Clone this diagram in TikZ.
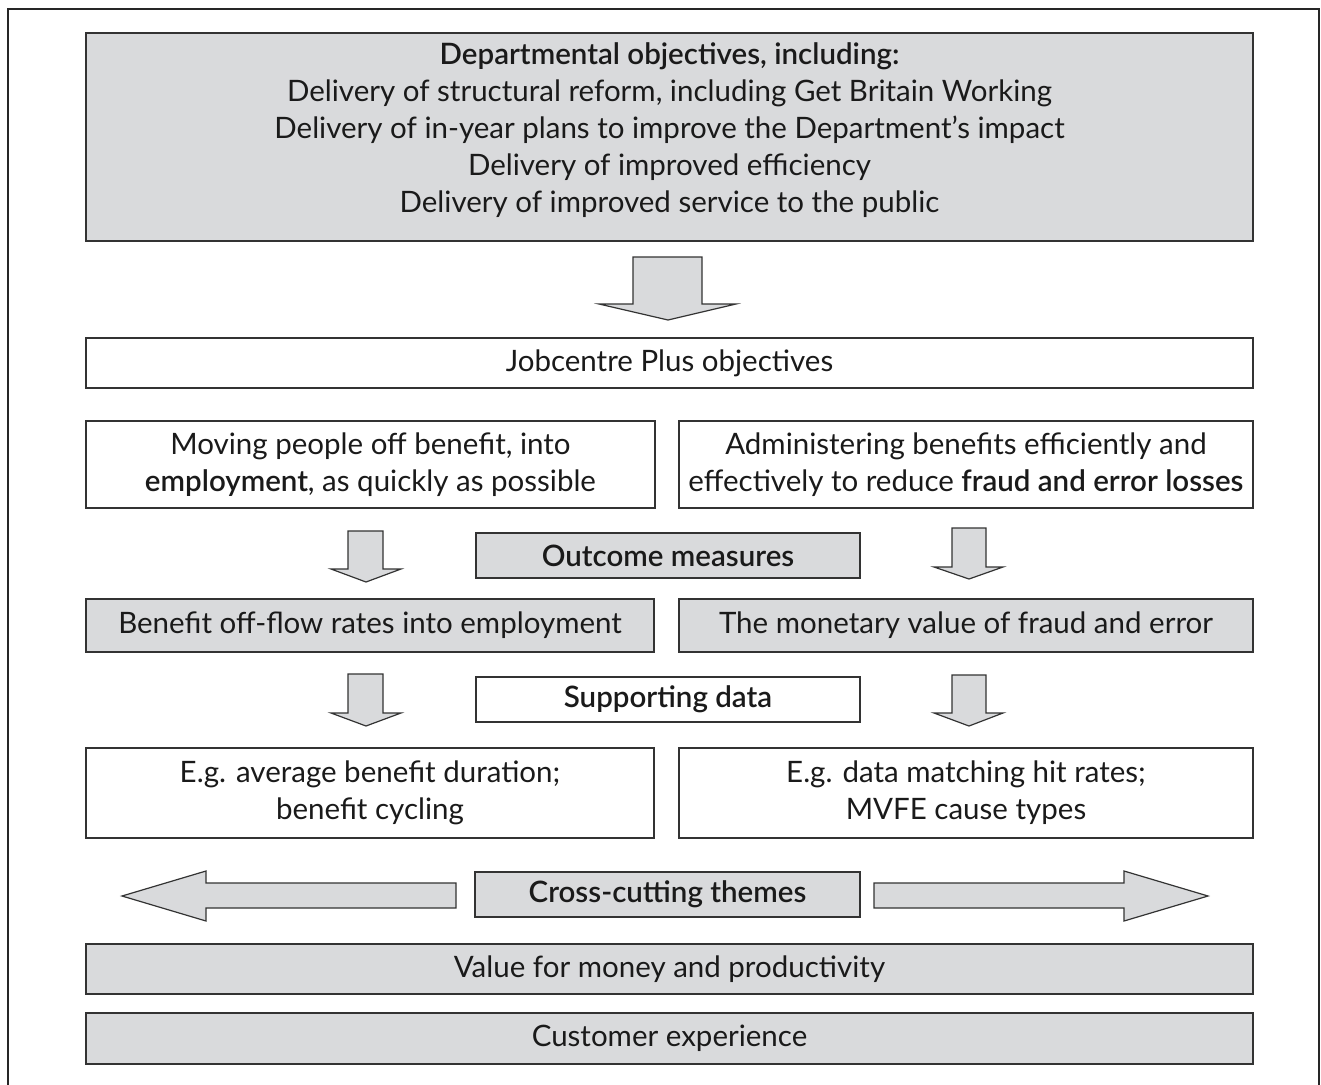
\documentclass[tikz,border=0pt]{standalone}
\usepackage{fontspec}
\setmainfont{Lato}[BoldFont={Lato Semibold}]
\definecolor{boxgray}{HTML}{D9DADC}
\definecolor{edge}{HTML}{333333}
\definecolor{ink}{HTML}{1A1A1A}
\begin{document}
\begin{tikzpicture}[x=1pt,y=-1pt,
  box/.style={draw=edge, line width=1.2pt, inner sep=0pt, align=center, text=ink,
    font=\fontsize{29.5}{37}\selectfont},
  gbox/.style={box, fill=boxgray},
  lbl/.style={inner sep=0pt, align=center, text=ink, font=\fontsize{29.5}{37}\selectfont},
  blockarrow/.style={draw=edge, line width=1.2pt, fill=boxgray, line join=miter},
  frame/.style={draw=black!85, line width=2.2pt}]
\useasboundingbox (0,0) rectangle (1321,1084);
\draw[frame] (8,1100) -- (8,9) -- (1319,9) -- (1319,1100);

% boxes
\node[gbox, minimum width=1167, minimum height=208] (top) at (669.5,137) {};
\node[lbl] (toptext) at (669.5,130)
  {\bfseries Departmental objectives, including:\\
   Delivery of structural reform, including Get Britain Working\\
   Delivery of in-year plans to improve the Department’s impact\\
   Delivery of improved efficiency\\
   Delivery of improved service to the public};
\node[box, minimum width=1167, minimum height=50] (jcp) at (669.5,363) {Jobcentre Plus objectives};
\node[box, minimum width=569, minimum height=87] (objL) at (370.5,464.5)
  {Moving people off benefit, into\\ {\bfseries employment}, as quickly as possible};
\node[box, minimum width=574, minimum height=87] (objR) at (966,464.5)
  {Administering benefits efficiently and\\ effectively to reduce {\bfseries fraud and error losses}};
\node[gbox, minimum width=384, minimum height=45] (outc) at (668,555.5) {\bfseries Outcome measures};
\node[gbox, minimum width=568, minimum height=53] (measL) at (370,625.5) {Benefit off-flow rates into employment};
\node[gbox, minimum width=574, minimum height=53] (measR) at (966,625.5) {The monetary value of fraud and error};
\node[box, minimum width=384, minimum height=45] (supp) at (668,699.5) {\bfseries Supporting data};
\node[box, minimum width=568, minimum height=90] (egL) at (370,793) {E.g. average benefit duration;\\ benefit cycling};
\node[box, minimum width=574, minimum height=90] (egR) at (966,793) {E.g. data matching hit rates;\\ MVFE cause types};
\node[gbox, minimum width=385, minimum height=45] (cross) at (667.5,894.5) {\bfseries Cross-cutting themes};
\node[gbox, minimum width=1167, minimum height=50] (vfm) at (669.5,969) {Value for money and productivity};
\node[gbox, minimum width=1167, minimum height=51] (cust) at (669.5,1038.5) {Customer experience};

% block arrows
\draw[blockarrow] (633,257) -- (702,257) -- (702,304) -- (736,304) -- (668,320) -- (599,304) -- (633,304) -- cycle;
\draw[blockarrow] (348,531) -- (383,531) -- (383,569) -- (401,569) -- (366,582) -- (331,569) -- (348,569) -- cycle;
\draw[blockarrow] (952,528) -- (986,528) -- (986,567) -- (1003,567) -- (969,579) -- (934,567) -- (952,567) -- cycle;
\draw[blockarrow] (348,674) -- (383,674) -- (383,713) -- (401,713) -- (366,726) -- (331,713) -- (348,713) -- cycle;
\draw[blockarrow] (952,675) -- (986,675) -- (986,713) -- (1003,713) -- (969,726) -- (934,713) -- (952,713) -- cycle;
\draw[blockarrow] (456,883) -- (206,883) -- (206,871) -- (122,896) -- (206,921) -- (206,908) -- (456,908) -- cycle;
\draw[blockarrow] (874,883) -- (1124,883) -- (1124,871) -- (1208,896) -- (1124,921) -- (1124,908) -- (874,908) -- cycle;
\end{tikzpicture}
\end{document}
